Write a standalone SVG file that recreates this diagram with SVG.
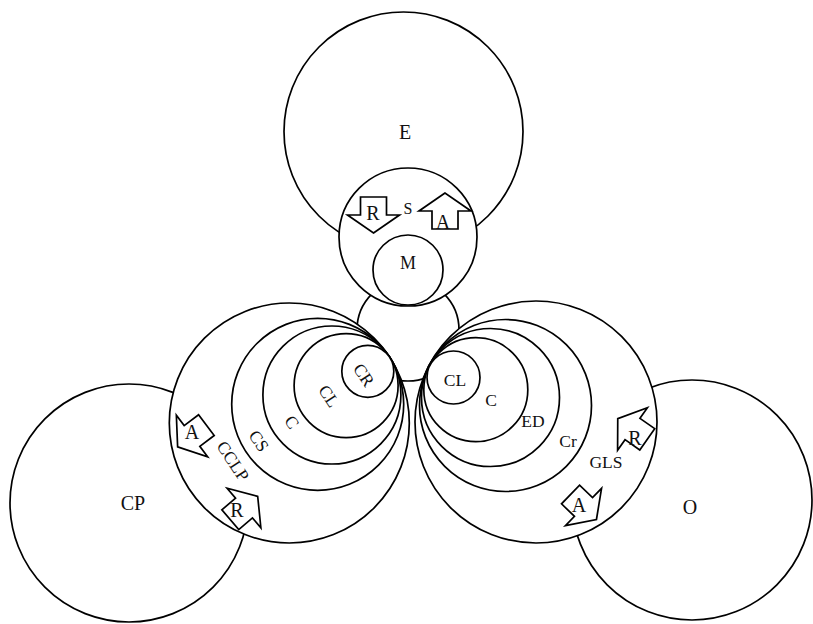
<svg xmlns="http://www.w3.org/2000/svg" xmlns:xlink="http://www.w3.org/1999/xlink" width="813" height="624" viewBox="0 0 813 624">
<style>
  .c { fill: #fff; stroke: #000; stroke-width: 1.7; }
  .ar { fill: #fff; stroke: #000; stroke-width: 1.7; stroke-linejoin: miter; }
  text { font-family: "Liberation Serif", "Times New Roman", serif; fill: #111; text-anchor: middle; dominant-baseline: central; }
  .big { font-size: 20px; }
  .lab { font-size: 17.5px; }
  .al { font-size: 20px; }
</style>
<defs>
  <path id="arrow" d="M18,0 L0,-26 L0,-13 L-18,-13 L-18,13 L0,13 L0,26 Z"/>
</defs>
<rect width="813" height="624" fill="#fff"/>
<g id="E"><circle class="c" cx="403.5" cy="131.5" r="119.5"/></g>
<g id="junction"><circle class="c" cx="408" cy="330" r="51"/></g>
<g id="S"><circle class="c" cx="408" cy="237" r="69"/></g>
<g id="M"><circle class="c" cx="408" cy="270" r="35"/></g>
<g id="CP"><circle class="c" cx="129" cy="503" r="119"/></g>
<g id="O"><circle class="c" cx="692" cy="500" r="120"/></g>
<g id="left-cluster">
  <circle class="c" cx="289.3" cy="423" r="120"/>
  <circle class="c" cx="317.7" cy="404.3" r="86"/>
  <circle class="c" cx="331.9" cy="395" r="69"/>
  <circle class="c" cx="346.1" cy="385.6" r="52"/>
  <circle class="c" cx="367.8" cy="371.3" r="26"/>
</g>
<g id="right-cluster">
  <circle class="c" cx="536" cy="422" r="121"/>
  <circle class="c" cx="505.5" cy="405.5" r="86"/>
  <circle class="c" cx="490.5" cy="397.5" r="69"/>
  <circle class="c" cx="475.8" cy="389.7" r="52"/>
  <circle class="c" cx="453.5" cy="377.5" r="26.5"/>
</g>
<g id="connectors">
  <use href="#arrow" class="ar" transform="translate(373.5,215) rotate(90)"/>
  <use href="#arrow" class="ar" transform="translate(445,211) rotate(-90)"/>
  <use href="#arrow" class="ar" transform="translate(632.5,429) rotate(-145)"/>
  <use href="#arrow" class="ar" transform="translate(583.5,507) rotate(44)"/>
  <use href="#arrow" class="ar" transform="translate(192,436) rotate(143)"/>
  <use href="#arrow" class="ar" transform="translate(244,508) rotate(-40.5)"/>
</g>
<g id="labels">
  <text class="big" x="405" y="132">E</text>
  <text x="408" y="208" style="font-size:16px">S</text>
  <text x="408" y="263" style="font-size:18px">M</text>
  <text class="big" x="133" y="503">CP</text>
  <text class="big" x="690" y="507">O</text>
  <text class="al" x="373" y="213">R</text>
  <text class="al" x="443" y="222">A</text>
  <text class="al" x="635" y="438">R</text>
  <text class="al" x="579" y="505">A</text>
  <text class="al" x="192" y="432">A</text>
  <text class="al" x="237" y="510">R</text>
  <text class="lab" transform="translate(364,375) rotate(56.6)">CR</text>
  <text class="lab" transform="translate(329,396) rotate(56.6)">CL</text>
  <text class="lab" transform="translate(292,422) rotate(56.6)">C</text>
  <text class="lab" transform="translate(259,441) rotate(56.6)">CS</text>
  <text class="lab" transform="translate(233,461) rotate(56.6)">CCLP</text>
  <text class="lab" x="455" y="380">CL</text>
  <text class="lab" x="491" y="400">C</text>
  <text class="lab" x="533" y="421">ED</text>
  <text class="lab" x="568" y="441">Cr</text>
  <text class="lab" x="606" y="462">GLS</text>
</g>
</svg>
